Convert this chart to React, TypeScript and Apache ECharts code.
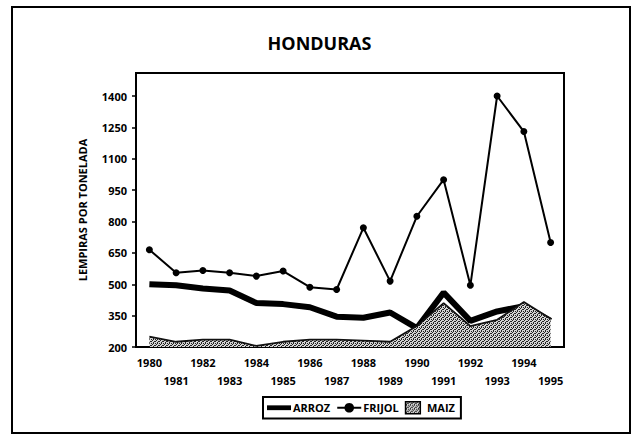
import React, { useEffect, useRef } from "react";
import * as echarts from "echarts";

const years = ["1980","1981","1982","1983","1984","1985","1986","1987","1988","1989","1990","1991","1992","1993","1994","1995"];
const arroz = [500, 495, 480, 470, 410, 405, 390, 345, 340, 365, 290, 460, 325, 370, 395, 325];
const frijol = [665, 555, 566, 555, 539, 563, 486, 475, 770, 515, 825, 1000, 495, 1400, 1230, 700];
const maiz = [250, 225, 235, 235, 205, 225, 235, 235, 230, 225, 300, 410, 300, 330, 415, 335];
const BASE = 200;
const FONT = "Open Sans";

function makePattern(): any {
  const c = document.createElement("canvas");
  c.width = 4;
  c.height = 4;
  const ctx = c.getContext("2d");
  if (!ctx) return "#aaaaaa";
  ctx.fillStyle = "#d4d4d4";
  ctx.fillRect(0, 0, 4, 4);
  ctx.fillStyle = "#222222";
  ctx.fillRect(0, 0, 1, 1);
  ctx.fillRect(2, 1, 1, 1);
  ctx.fillRect(1, 2, 1, 1);
  ctx.fillRect(3, 3, 1, 1);
  ctx.fillRect(3, 1, 1, 1);
  ctx.fillRect(1, 3, 1, 1);
  return { image: c, repeat: "repeat" };
}

export default function App() {
  const ref = useRef<HTMLDivElement>(null);
  useEffect(() => {
    if (!ref.current) return;
    const chart = echarts.init(ref.current, null, { renderer: "svg" });
    const off = (a: number[]) => a.map((v) => v - BASE);
    const pattern = makePattern();
    chart.setOption({
      animation: false,
      backgroundColor: "#ffffff",
      title: {
        text: "HONDURAS",
        left: "center",
        top: 29,
        textStyle: { fontFamily: FONT, fontWeight: "bold", fontSize: 18, color: "#000" },
      },
      graphic: [
        {
          type: "rect",
          shape: { x: 12, y: 7, width: 618, height: 426 },
          style: { fill: "none", stroke: "#000", lineWidth: 2 },
          silent: true,
        },
      ],
      grid: { left: 136, right: 75, top: 73, bottom: 88, show: true, borderColor: "#000", borderWidth: 2, backgroundColor: "transparent" },
      legend: {
        left: 263,
        top: 397,
        borderColor: "#000",
        borderWidth: 2,
        padding: [4, 6, 4, 4],
        itemGap: 6,
        itemWidth: 24,
        itemHeight: 12,
        textStyle: { fontFamily: FONT, fontWeight: "bold", fontSize: 11, color: "#000", padding: [0, 0, 0, -3] },
        data: [
          { name: "ARROZ", icon: "path://M0,0L30,0L30,6L0,6Z", itemStyle: { color: "#000" } },
          { name: "FRIJOL" },
          { name: "MAIZ", icon: "path://M0,0L16,0L16,13L0,13Z", itemStyle: { color: pattern, borderColor: "#000", borderWidth: 1.5 } },
        ],
      },
      xAxis: {
        type: "category",
        data: years,
        boundaryGap: true,
        axisLine: { lineStyle: { color: "#000", width: 2 } },
        axisTick: { alignWithLabel: true, length: 4, lineStyle: { color: "#000", width: 1.5 } },
        axisLabel: {
          interval: 0,
          margin: 6,
          fontFamily: FONT,
          fontWeight: "bold",
          fontSize: 11,
          color: "#000",
          lineHeight: 18,
          formatter: (v: string, i: number) => (i % 2 === 0 ? v : "\n" + v),
        },
        splitLine: { show: false },
      },
      yAxis: {
        type: "value",
        min: 0,
        max: 1310,
        interval: 150,
        name: "LEMPIRAS POR TONELADA",
        nameLocation: "middle",
        nameGap: 48,
        nameTextStyle: { fontFamily: FONT, fontWeight: "bold", fontSize: 11, color: "#000" },
        axisLine: { show: true, lineStyle: { color: "#000", width: 2 } },
        axisTick: { show: true, length: 4, lineStyle: { color: "#000", width: 1.5 } },
        axisLabel: {
          margin: 9,
          showMaxLabel: false,
          fontFamily: FONT,
          fontWeight: "bold",
          fontSize: 11,
          color: "#000",
          formatter: (v: number) => String(v + BASE),
        },
        splitLine: { show: false },
      },
      series: [
        {
          name: "ARROZ",
          type: "line",
          data: off(arroz),
          showSymbol: false,
          symbol: "none",
          lineStyle: { color: "#000", width: 6 },
          itemStyle: { color: "#000" },
          z: 2,
        },
        {
          name: "MAIZ",
          type: "line",
          data: off(maiz),
          showSymbol: false,
          symbol: "none",
          lineStyle: { color: "#111", width: 1.8 },
          itemStyle: { color: "#888" },
          areaStyle: { color: pattern, opacity: 1 },
          z: 3,
        },
        {
          name: "FRIJOL",
          type: "line",
          data: off(frijol),
          symbol: "circle",
          symbolSize: 7,
          lineStyle: { color: "#000", width: 2 },
          itemStyle: { color: "#000" },
          z: 4,
        },
      ],
    });
    return () => chart.dispose();
  }, []);
  return <div ref={ref} style={{ width: 639, height: 435, position: "absolute", left: 0, top: 0 }} />;
}
